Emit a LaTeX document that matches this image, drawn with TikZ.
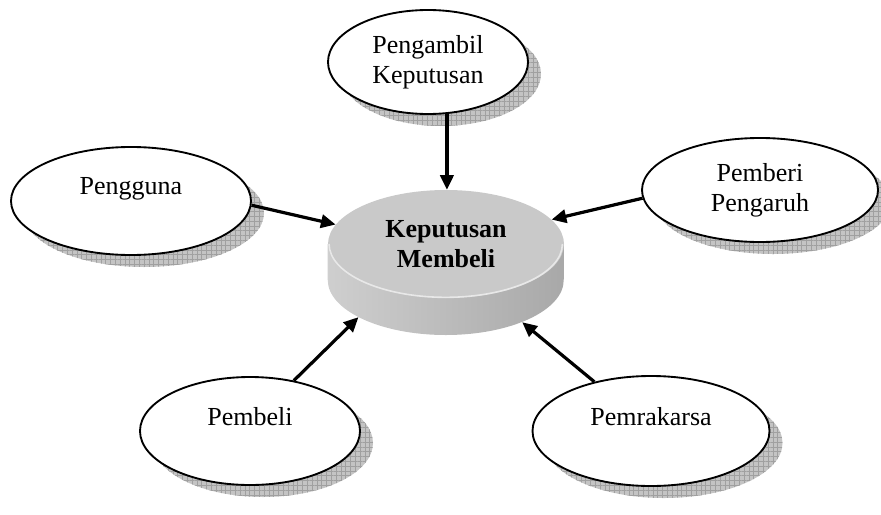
\documentclass[tikz,border=0pt]{standalone}
\usepackage{fontspec}
\setmainfont{Liberation Serif}
\usetikzlibrary{shapes.geometric,shadows,patterns.meta,arrows.meta,backgrounds}

\definecolor{bayang}{RGB}{196,196,196}
\definecolor{kisi}{RGB}{160,160,160}
\definecolor{cakram}{RGB}{201,201,201}

\tikzset{
  peran/.style={ellipse, draw=black, line width=1.4pt, fill=white, inner sep=0pt,
    align=center, font=\fontsize{19.5}{22.5}\selectfont,
    drop shadow={shadow xshift=9.75pt, shadow yshift=-9pt, fill=bayang, opacity=1},
    drop shadow={shadow xshift=9.75pt, shadow yshift=-9pt, fill=bayang, opacity=1,
      pattern={Lines[angle=0, distance=3.6pt, line width=0.45pt]}, pattern color=kisi},
    drop shadow={shadow xshift=9.75pt, shadow yshift=-9pt, fill=bayang, opacity=1,
      pattern={Lines[angle=90, distance=3.6pt, line width=0.45pt]}, pattern color=kisi}},
  panah/.style={line width=2.4pt, -{Triangle[length=11pt,width=10pt]}},
}

\begin{document}
\begin{tikzpicture}[x=0.75pt, y=-0.75pt]
    \useasboundingbox (0,0) rectangle (881,514);

    % Keputusan membeli: the grey disc in the middle
    \node[ellipse, fill=cakram, inner sep=0pt, minimum width=177pt, minimum height=81pt,
      align=center, font=\fontsize{19.5}{22.5}\selectfont\bfseries]
      (keputusan) at (446,244) {Keputusan\\Membeli};
    \node[ellipse, inner sep=0pt, minimum width=177pt, minimum height=82.5pt] (alas) at (446,280) {};
    \begin{scope}[on background layer]
      \shade[left color=gray!38, middle color=gray!22, right color=gray!68]
        (keputusan.west) -- (alas.west)
        arc[start angle=180, end angle=360, x radius=88.5pt, y radius=41.25pt]
        -- (keputusan.east) -- cycle;
    \end{scope}
    \draw[gray!18, line width=1.2pt] ([xshift=1pt]keputusan.west)
      arc[start angle=180, end angle=360, x radius=87.5pt, y radius=40pt];

    % the five roles round it
    \foreach \nama/\x/\y/\lebar/\tinggi/\teks in {%
        pengambil/428/62/200/104/{Pengambil\\Keputusan},
        pengguna/131/201/240/108/{Pengguna\\\mbox{}},
        pemberi/760/190/236/104/{Pemberi\\Pengaruh},
        pembeli/250/431/220/108/{Pembeli\\\mbox{}},
        pemrakarsa/651/431/237/110/{Pemrakarsa\\\mbox{}}}{
      \node[peran, minimum width=\lebar*0.75pt, minimum height=\tinggi*0.75pt]
        (\nama) at (\x,\y) {\teks};
    }

    \draw[panah] (pengambil.-70) -- (pengambil.-70 |- keputusan.north);
    \draw[panah] (pengguna.-2) -- (keputusan.170);
    \draw[panah] (pemberi.184) -- (keputusan.13);
    \draw[panah] (pembeli.49) -- (alas.203);
    \draw[panah] (pemrakarsa.139) -- (alas.331);
\end{tikzpicture}
\end{document}
